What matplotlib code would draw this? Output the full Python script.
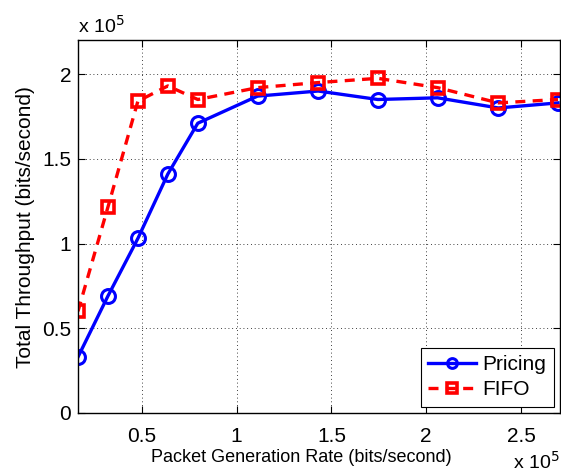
import matplotlib
matplotlib.use("Agg")
import matplotlib.pyplot as plt

# data (units of 1e5)
rate = [0.163, 0.321, 0.479, 0.637, 0.795, 1.11, 1.43, 1.745, 2.06, 2.38, 2.695]
pricing = [0.33, 0.69, 1.03, 1.41, 1.71, 1.87, 1.90, 1.85, 1.86, 1.80, 1.83]
fifo = [0.60, 1.215, 1.84, 1.93, 1.85, 1.92, 1.95, 1.975, 1.92, 1.83, 1.85]

xticks = [0.5, 1, 1.5, 2, 2.5]
yticks = [0, 0.5, 1, 1.5, 2]

plt.rcParams["font.family"] = ["Liberation Sans", "DejaVu Sans"]
plt.rcParams["font.size"] = 15

fig = plt.figure(figsize=(5.61, 4.73), dpi=100)
ax = fig.add_axes([0.139, 0.127, 0.859, 0.788])

ax.plot(rate, pricing, "-o", color="blue", linewidth=2.4, markersize=10,
        markerfacecolor="none", markeredgewidth=2.2, label="Pricing")
ax.plot(rate, fifo, "--s", color="red", linewidth=2.4, markersize=8,
        markerfacecolor="none", markeredgewidth=2.6, dashes=(3, 2.2),
        label="FIFO")

ax.set_xlim(0.163, 2.705)
ax.set_ylim(0, 2.2)
ax.set_xticks(xticks)
ax.set_xticklabels(["0.5", "1", "1.5", "2", "2.5"])
ax.set_yticks(yticks)
ax.set_yticklabels(["0", "0.5", "1", "1.5", "2"])
ax.tick_params(direction="in", length=5, width=0.8, top=True, right=True,
               labelsize=15)
ax.tick_params(axis="x", pad=10)
ax.tick_params(axis="y", pad=5)
ax.grid(True, color="black", linestyle=(0, (1, 3.5)), linewidth=0.6)
for s in ax.spines.values():
    s.set_linewidth(1.0)

ax.set_xlabel("Packet Generation Rate (bits/second)", fontsize=13)
ax.xaxis.set_label_coords(0.463, -0.097, transform=ax.transAxes)
ax.xaxis.label.set_va("top")
ax.set_ylabel("Total Throughput (bits/second)", fontsize=15, labelpad=5)

fig.text(0.139, 0.930, r"x 10$^5$", fontsize=14, ha="left", va="baseline")
fig.text(0.915, 0.008, r"x 10$^5$", fontsize=14, ha="left", va="baseline")

leg = ax.legend(loc="lower right", fontsize=15, fancybox=False, framealpha=1,
                edgecolor="black", handlelength=2.3, borderaxespad=0.3,
                handletextpad=0.3, borderpad=0.35, labelspacing=0.3)
leg.get_frame().set_linewidth(0.8)
for h in leg.legend_handles:
    h.set_markersize(7)

fig.savefig("out.png", dpi=100)
